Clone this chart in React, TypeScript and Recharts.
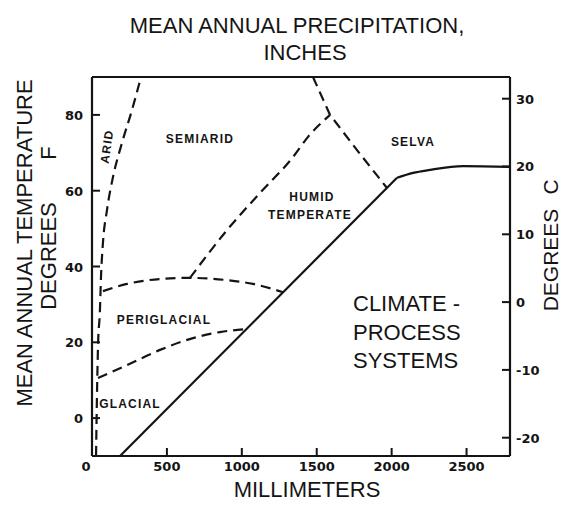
import { LineChart, Line, XAxis, YAxis } from 'recharts';

// boundaries: precipitation in mm, temperature in deg F
const aridMm = [27, 33, 40, 53, 60, 73, 100, 140, 200, 267, 327];
const aridF = [-10, 5.6, 18.8, 28.5, 37.2, 46.2, 54.9, 63.6, 72.6, 81.3, 90];

const periUpperMm = [73, 234, 454, 654, 901, 1075, 1275];
const periUpperF = [33.5, 35.4, 36.7, 37, 36.4, 35.4, 33.2];

const periLowerMm = [40, 234, 454, 674, 854, 1030];
const periLowerF = [10.6, 14, 18, 21.1, 22.7, 23.5];

const humidMm = [654, 901, 1121, 1342, 1442, 1589];
const humidF = [37, 49.6, 59.4, 68.9, 74.2, 80];

const selvaMm = [1475, 1589, 1769, 1969];
const selvaF = [90, 80, 70.7, 60.7];

const diagMm = [187, 2036];
const diagF = [-10, 63.4];

const selvaBaseMm = [2036, 2143, 2256, 2477, 2790];
const selvaBaseF = [63.4, 64.7, 65.5, 66.5, 66.3];

const mmTicks = [0, 500, 1000, 1500, 2000, 2500];
const inchTicks = [0, 20, 40, 60, 80, 100];
const fTicks = [0, 20, 40, 60, 80];
const cTicks = [-20, -10, 0, 10, 20, 30];

const toPts = (mm: number[], f: number[]) => mm.map((m, i) => ({ mm: m, f: f[i] }));

const INK = '#141414';
const tickFont = { fontFamily: '"DejaVu Sans", sans-serif', fontWeight: 700, fontSize: 13, fill: INK };
const regionFont = { fontFamily: '"Liberation Sans", Arial, sans-serif', fontWeight: 700, fontSize: 12, letterSpacing: 1.2, fill: INK };
const bigFont = { fontFamily: '"Liberation Sans", Arial, sans-serif', fontSize: 22, fill: INK };

const BottomTick = ({ x, y, payload }: any) => (
  <g>
    {payload.value > 0 && <line x1={x} x2={x} y1={y} y2={y - 8} stroke={INK} strokeWidth={2} />}
    <text x={payload.value === 0 ? x - 6 : x} y={y + 15} textAnchor="middle" {...tickFont}>{payload.value}</text>
  </g>
);

const TopTick = ({ x, y, payload }: any) => (
  <g>
    {payload.value > 0 && <line x1={x} x2={x} y1={y} y2={y + 8} stroke={INK} strokeWidth={2} />}
    <text x={x} y={y - 5} textAnchor="middle" {...tickFont}>{payload.value}</text>
  </g>
);

const LeftTick = ({ x, y, payload }: any) => (
  <g>
    <line x1={x} x2={x + 8} y1={y} y2={y} stroke={INK} strokeWidth={2} />
    <text x={x - 9} y={y + 5} textAnchor="end" {...tickFont}>{payload.value}</text>
  </g>
);

const RightTick = ({ x, y, payload }: any) => (
  <g>
    <line x1={x} x2={x - 8} y1={y} y2={y} stroke={INK} strokeWidth={2} />
    <text x={x + 6} y={y + 5} textAnchor="start" {...tickFont}>{payload.value}</text>
  </g>
);

const dashed = { stroke: INK, strokeWidth: 2.2, strokeDasharray: '10 6', dot: false, isAnimationActive: false };
const solid = { stroke: INK, strokeWidth: 2.2, dot: false, isAnimationActive: false };

export default function App() {
  return (
    <div style={{ position: 'absolute', left: 0, top: 0, width: 562, height: 507, background: '#fff' }}>
      <LineChart width={562} height={507} margin={{ top: 47, right: 12, bottom: 21, left: 32 }}>
        <XAxis xAxisId="mm" dataKey="mm" type="number" domain={[0, 2790]} ticks={mmTicks}
          orientation="bottom" height={30} tickSize={0} tickMargin={0} tick={BottomTick}
          axisLine={{ stroke: INK, strokeWidth: 2.2 }} tickLine={false} allowDataOverflow />
        <XAxis xAxisId="in" type="number" domain={[0, 2790 / 25.4]} ticks={inchTicks}
          orientation="top" height={30} tickSize={0} tickMargin={0} tick={TopTick}
          axisLine={{ stroke: INK, strokeWidth: 2.2 }} tickLine={false} allowDataOverflow />
        <YAxis yAxisId="f" type="number" domain={[-10, 90]} ticks={fTicks}
          orientation="left" width={60} tickSize={0} tickMargin={0} tick={LeftTick}
          axisLine={{ stroke: INK, strokeWidth: 2.2 }} tickLine={false} allowDataOverflow />
        <YAxis yAxisId="c" type="number" domain={[-22.7, 33.2]} ticks={cTicks}
          orientation="right" width={40} tickSize={0} tickMargin={0} tick={RightTick}
          axisLine={{ stroke: INK, strokeWidth: 2.2 }} tickLine={false} allowDataOverflow />

        <Line xAxisId="mm" yAxisId="f" data={toPts(aridMm, aridF)} dataKey="f" type="monotone" {...dashed} />
        <Line xAxisId="mm" yAxisId="f" data={toPts(periUpperMm, periUpperF)} dataKey="f" type="monotone" {...dashed} />
        <Line xAxisId="mm" yAxisId="f" data={toPts(periLowerMm, periLowerF)} dataKey="f" type="monotone" {...dashed} />
        <Line xAxisId="mm" yAxisId="f" data={toPts(humidMm, humidF)} dataKey="f" type="monotone" {...dashed} />
        <Line xAxisId="mm" yAxisId="f" data={toPts(selvaMm, selvaF)} dataKey="f" type="linear" {...dashed} />
        <Line xAxisId="mm" yAxisId="f" data={toPts(diagMm, diagF)} dataKey="f" type="linear" {...solid} />
        <Line xAxisId="mm" yAxisId="f" data={toPts(selvaBaseMm, selvaBaseF)} dataKey="f" type="monotone" {...solid} />
      </LineChart>

      <svg width={562} height={507} style={{ position: 'absolute', left: 0, top: 0, pointerEvents: 'none' }}>
        <text x={297} y={33} textAnchor="middle" {...bigFont}>MEAN ANNUAL PRECIPITATION,</text>
        <text x={305} y={60} textAnchor="middle" {...bigFont}>INCHES</text>
        <text x={307} y={497} textAnchor="middle" {...bigFont}>MILLIMETERS</text>

        <text x={32} y={243} textAnchor="middle" transform="rotate(-90 32 243)" {...bigFont}>MEAN ANNUAL TEMPERATURE</text>
        <text x={56} y={256} textAnchor="middle" transform="rotate(-90 56 256)" {...bigFont}>DEGREES</text>
        <text x={56} y={153} textAnchor="middle" transform="rotate(-90 56 153)" {...bigFont}>F</text>
        <text x={558} y={260} textAnchor="middle" transform="rotate(-90 558 260)" {...bigFont} fontSize={21}>DEGREES</text>
        <text x={558} y={187} textAnchor="middle" transform="rotate(-90 558 187)" {...bigFont} fontSize={21}>C</text>

        <text x={111} y={147} textAnchor="middle" transform="rotate(-82 111 147)" {...regionFont}>ARID</text>
        <text x={200} y={143} textAnchor="middle" {...regionFont}>SEMIARID</text>
        <text x={312} y={201} textAnchor="middle" {...regionFont}>HUMID</text>
        <text x={310} y={219} textAnchor="middle" {...regionFont}>TEMPERATE</text>
        <text x={413} y={146} textAnchor="middle" {...regionFont}>SELVA</text>
        <text x={164} y={324} textAnchor="middle" {...regionFont}>PERIGLACIAL</text>
        <text x={130} y={408} textAnchor="middle" {...regionFont}>GLACIAL</text>

        <text x={353} y={311} {...bigFont}>CLIMATE -</text>
        <text x={353} y={340} {...bigFont}>PROCESS</text>
        <text x={353} y={368} {...bigFont}>SYSTEMS</text>
      </svg>
    </div>
  );
}
